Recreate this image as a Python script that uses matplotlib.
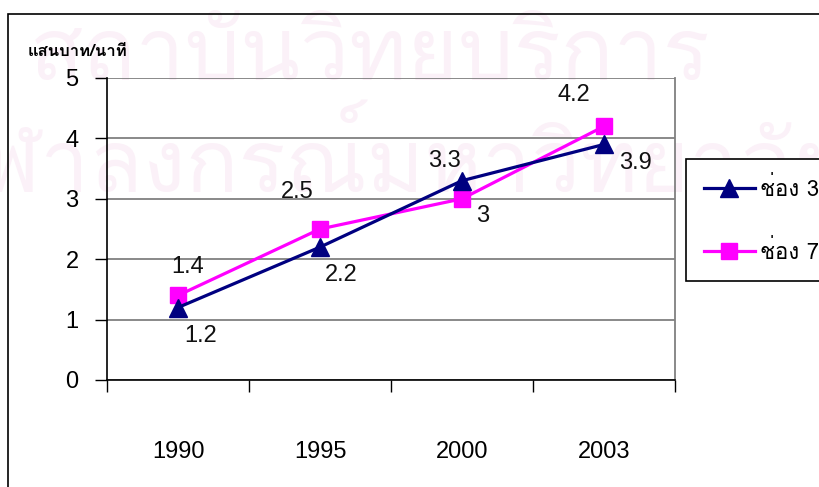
import matplotlib
matplotlib.use("Agg")
import matplotlib.pyplot as plt
from matplotlib import font_manager
from matplotlib.patches import Rectangle
from matplotlib.lines import Line2D

# ---- data ----
years = ["1990", "1995", "2000", "2003"]
ch3 = [1.2, 2.2, 3.3, 3.9]
ch7 = [1.4, 2.5, 3.0, 4.2]
series_names = ["ช่อง 3", "ช่อง 7"]
y_title = "แสนบาท/นาที"
y_ticks = [0, 1, 2, 3, 4, 5]
watermark_lines = ["สถาบันวิทยบริการ", "จุฬาลงกรณ์มหาวิทยาลัย"]


def thai_fonts():
    """Return installed family names that contain Thai glyphs."""
    found = []
    try:
        from fontTools.ttLib import TTFont
    except Exception:
        return found
    for fe in font_manager.fontManager.ttflist:
        if fe.name in found:
            continue
        try:
            f = TTFont(fe.fname, fontNumber=0, lazy=True)
            cmap = f.getBestCmap() or {}
            if 0x0E2A in cmap and 0x0E48 in cmap:
                found.append(fe.name)
        except Exception:
            pass
    return found


thai = thai_fonts()
base_family = ["Liberation Sans"] + thai + ["DejaVu Sans"]
thai_family = thai + ["Liberation Sans", "DejaVu Sans"]
plt.rcParams["font.family"] = base_family

W, H = 819, 487
fig = plt.figure(figsize=(W / 100, H / 100), dpi=100)
fig.patch.set_facecolor("white")

# faint background text
wm_color = "#fbf1f8"
fig.text(30 / W, 1 - 80 / H, watermark_lines[0], family=thai_family,
         fontsize=63, color=wm_color, ha="left", va="baseline", zorder=0)
fig.text(-70 / W, 1 - 192 / H, watermark_lines[1], family=thai_family,
         fontsize=63, color=wm_color, ha="left", va="baseline", zorder=0)

# outer chart frame
fig.add_artist(Rectangle((8 / W, -0.2), 2.0, (1 - 14 / H) + 0.2,
                         transform=fig.transFigure, fill=False,
                         edgecolor="black", linewidth=1.2, zorder=1))

ax = fig.add_axes([107 / W, 1 - 380 / H, (675 - 107) / W, (380 - 78) / H])
ax.set_facecolor("none")
ax.set_zorder(2)

x = list(range(len(years)))
ax.plot(x, ch3, color="#000080", linewidth=2.3, marker="^", markersize=13,
        markeredgecolor="#000080", label=series_names[0], zorder=4)
ax.plot(x, ch7, color="#FF00FF", linewidth=2.3, marker="s", markersize=12,
        markeredgecolor="#FF00FF", label=series_names[1], zorder=3)

# value labels
lab_kw = dict(textcoords="offset pixels", ha="center", va="center",
              fontsize=17, color="#111111")
ch3_offsets = [(23, -28), (21, -28), (-18, 20), (31, -19)]
ch7_offsets = [(10, 28), (-23, 37), (21, -17), (-30, 31)]
for xi, v, off in zip(x, ch3, ch3_offsets):
    ax.annotate(f"{v:g}", (xi, v), xytext=off, **lab_kw)
for xi, v, off in zip(x, ch7, ch7_offsets):
    ax.annotate(f"{v:g}", (xi, v), xytext=off, **lab_kw)

ax.set_xlim(-0.5, len(years) - 0.5)
ax.set_ylim(0, 5)
ax.set_yticks(y_ticks)
ax.yaxis.grid(True, color="#808080", linewidth=1.3)
ax.set_axisbelow(True)
ax.tick_params(axis="y", direction="out", length=8.5, width=1.0,
               color="black", pad=12, labelsize=17)

# tick marks between categories, labels centred below
ax.set_xticks([i - 0.5 for i in range(len(years) + 1)])
ax.set_xticklabels([])
ax.set_xticks(x, minor=True)
ax.set_xticklabels(years, minor=True)
ax.tick_params(axis="x", which="major", direction="out", length=8.5,
               width=1.0, color="black")
ax.tick_params(axis="x", which="minor", length=0, pad=44, labelsize=17)

for side in ["left", "bottom"]:
    ax.spines[side].set_color("black")
    ax.spines[side].set_linewidth(1.2)
ax.spines["right"].set_color("#808080")
ax.spines["right"].set_linewidth(1.3)
ax.spines["top"].set_visible(False)

fig.text(28 / W, 1 - 51 / H, y_title, family=thai_family, fontsize=12,
         fontweight="bold", ha="left", va="center", color="black")

handles = [
    Line2D([], [], color="#000080", linewidth=2.3, marker="^", markersize=13),
    Line2D([], [], color="#FF00FF", linewidth=2.3, marker="s", markersize=12),
]
leg = fig.legend(handles, series_names, loc="upper left",
                 bbox_to_anchor=(686 / W, 1 - 159 / H),
                 bbox_transform=fig.transFigure, borderaxespad=0,
                 frameon=True, fancybox=False, edgecolor="black",
                 facecolor="white", framealpha=1, handlelength=2.3,
                 labelspacing=1.75, borderpad=0.8, handletextpad=0.25,
                 prop={"family": thai_family, "size": 16})
leg.get_frame().set_linewidth(1.2)

fig.savefig("out.png", dpi=100)
